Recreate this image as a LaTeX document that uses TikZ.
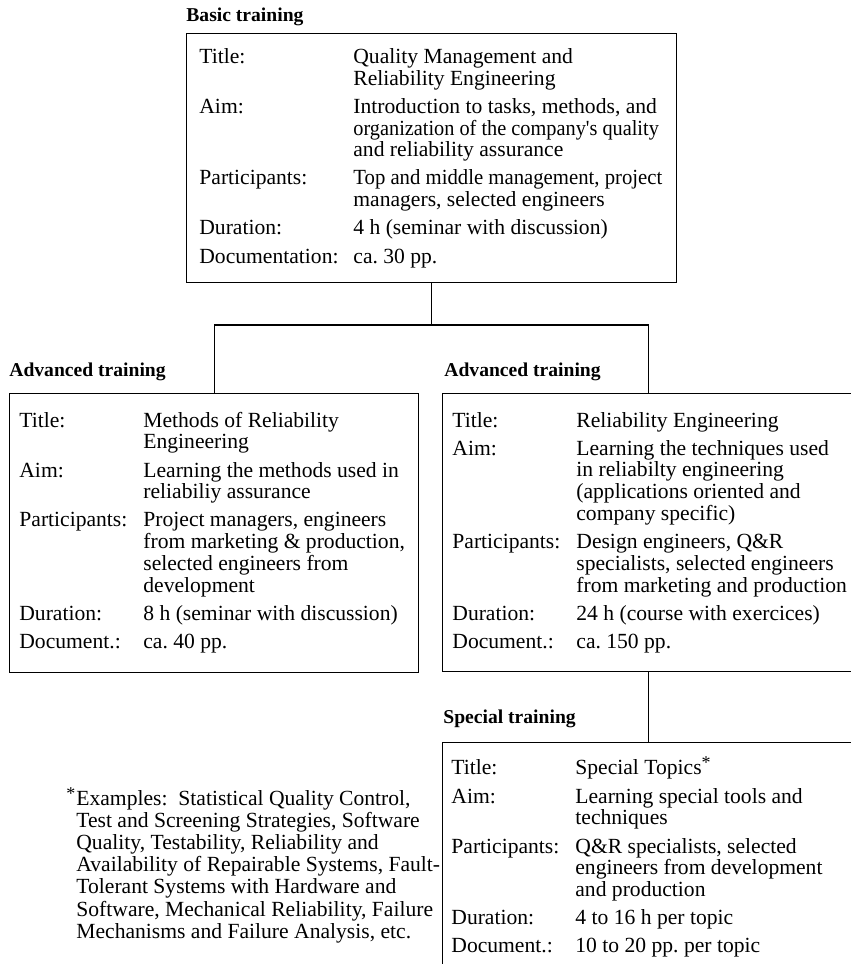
\documentclass[tikz,border=0pt]{standalone}
\usepackage{fontspec}
\setmainfont{Liberation Serif}
\usepackage{graphicx}
\usepackage{tikz}
\usetikzlibrary{positioning, calc}

% one row of a course box: label & (several lines of) value
\newcommand{\trow}[2]{#1 & \begin{tabular}[t]{@{}l@{}}#2\end{tabular}\\\noalign{\vskip3.25pt}}
% footnote mark
\newcommand{\fnmark}{\raisebox{3pt}{\fontsize{9}{9}\selectfont *}}

\tikzset{
  tbox/.style = {
    rectangle, draw=black, line width=0.6pt,
    anchor=north west, inner sep=0pt
  },
  tcont/.style = {
    anchor=north west, inner sep=0pt,
    font=\fontsize{10.8}{10.85}\selectfont
  },
  head/.style = {
    anchor=base west, inner sep=0pt,
    font=\fontsize{9.8}{11}\selectfont\bfseries
  },
  note/.style = {
    anchor=base west, inner sep=0pt,
    font=\fontsize{10.8}{11.1}\selectfont
  },
  link/.style = {draw=black, line width=0.6pt},
}

\begin{document}
\frenchspacing
\begin{tikzpicture}[x=0.5pt, y=-0.5pt]

  \useasboundingbox (0,0) rectangle (851,964);

  % Basic training
  \node[head] (basicH) at (186,21) {Basic training};
  \node[tbox, minimum width=245pt, minimum height=124.5pt] (basic)
    at (186,33) {};
  \node[tcont] (basicT) at (199,47.8) {%
    \begin{tabular}{@{}p{77pt}@{}l@{}}
      \trow{Title:}{Quality Management and\\Reliability Engineering}
      \trow{Aim:}{Introduction to tasks, methods, and\\\scalebox{0.94}[1]{organization of the company\textquotesingle s quality}\\and reliability assurance}
      \trow{Participants:}{\scalebox{0.96}[1]{Top and middle management, project}\\managers, selected engineers}
      \trow{Duration:}{4 h (seminar with discussion)}
      \trow{Documentation:}{ca. 30 pp.}
    \end{tabular}};

  % Advanced training (left)
  \node[head] (adv1H) at (9,376) {Advanced training};
  \node[tbox, minimum width=204.5pt, minimum height=139.5pt] (adv1)
    at (9,393) {};
  \node[tcont] (adv1T) at (19,411.5) {%
    \begin{tabular}{@{}p{62pt}@{}l@{}}
      \trow{Title:}{Methods of Reliability\\Engineering}
      \trow{Aim:}{Learning the methods used in\\reliabiliy assurance}
      \trow{Participants:}{Project managers, engineers\\from marketing \& production,\\selected engineers from\\development}
      \trow{Duration:}{8 h (seminar with discussion)}
      \trow{Document.:}{ca. 40 pp.}
    \end{tabular}};

  % Advanced training (right)
  \node[head] (adv2H) at (444,376) {Advanced training};
  \node[tbox, minimum width=205.5pt, minimum height=139pt] (adv2)
    at (442,393) {};
  \node[tcont] (adv2T) at (452,411.5) {%
    \begin{tabular}{@{}p{62pt}@{}l@{}}
      \trow{Title:}{Reliability Engineering}
      \trow{Aim:}{Learning the techniques used\\in reliabilty engineering\\(applications oriented and\\company specific)}
      \trow{Participants:}{Design engineers, Q\&R\\specialists, selected engineers\\from marketing and production}
      \trow{Duration:}{24 h (course with exercices)}
      \trow{Document.:}{ca. 150 pp.}
    \end{tabular}};

  % Special training
  \node[head] (specH) at (443,723) {Special training};
  \node[tbox, minimum width=205.5pt, minimum height=130pt] (spec)
    at (442,742) {};
  \node[tcont] (specT) at (451,756.8) {%
    \begin{tabular}{@{}p{62pt}@{}l@{}}
      \trow{Title:}{Special Topics\fnmark}
      \trow{Aim:}{Learning special tools and\\techniques}
      \trow{Participants:}{Q\&R specialists, selected\\engineers from development\\and production}
      \trow{Duration:}{4 to 16 h per topic}
      \trow{Document.:}{10 to 20 pp. per topic}
    \end{tabular}};

  % footnote
  \node[note] (fnote) at (76,805) {%
    \begin{tabular}[t]{@{}l@{}}
      \llap{\fnmark\kern0.5pt}Examples:\ \ Statistical Quality Control,\\
      Test and Screening Strategies, Software\\
      Quality, Testability, Reliability and\\
      Availability of Repairable Systems, Fault-\\
      Tolerant Systems with Hardware and\\
      Software, Mechanical Reliability, Failure\\
      Mechanisms and Failure Analysis, etc.
    \end{tabular}};

  %% Connectors
  \coordinate (bus) at (0,325);
  \draw[link] (basic.south) -- (basic.south |- bus);
  \draw[link] (adv1.north) |- (bus -| adv2.north) -- (adv2.north);
  \draw[link] (adv2.south) -- (spec.north);

\end{tikzpicture}
\end{document}
